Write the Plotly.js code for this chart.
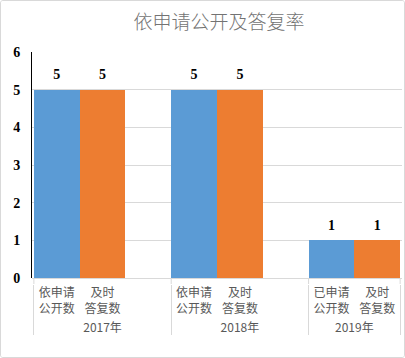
<!DOCTYPE html>
<html>
<head>
<meta charset="utf-8">
<script src="https://cdn.plot.ly/plotly-3.0.1.min.js"></script>
<style>
html,body{margin:0;padding:0;background:#fff;}
#wrap{width:405px;height:358px;box-sizing:border-box;border:1px solid #d9d9d9;border-radius:3px;overflow:hidden;}
#chart{width:403px;height:356px;}
</style>
</head>
<body>
<div id="wrap"><div id="chart"></div></div>
<script>
const years = ['2017年', '2018年', '2019年'];
const appliedLabels = ['依申请<br>公开数', '依申请<br>公开数', '已申请<br>公开数'];
const repliedLabel = '及时<br>答复数';
const applied = [5, 5, 1];
const replied = [5, 5, 1];
const hasSpacer = [true, true, false];

const blue = '#5B9BD5', orange = '#ED7D31';
const xParent = [], xChild = [], yVals = [], colors = [], texts = [];
function pushItem(p, c, v, col, t) { xParent.push(p); xChild.push(c); yVals.push(v); colors.push(col); texts.push(t); }
years.forEach((yr, i) => pushItem(yr, appliedLabels[i], applied[i], blue, String(applied[i])));
years.forEach((yr, i) => pushItem(yr, repliedLabel, replied[i], orange, String(replied[i])));
years.forEach((yr, i) => { if (hasSpacer[i]) pushItem(yr, ' ', null, '#fff', ''); });

const bars = {
  type: 'bar',
  x: [xParent, xChild],
  y: yVals,
  marker: {color: colors, line: {width: 0}},
  hoverinfo: 'none'
};

const labels = {
  type: 'scatter',
  mode: 'markers+text',
  x: [xParent, xChild],
  y: yVals,
  text: texts,
  textposition: 'top center',
  marker: {size: 10, opacity: 0},
  cliponaxis: false,
  textfont: {family: 'Liberation Serif', size: 14, color: '#000', weight: 'bold'},
  hoverinfo: 'none'
};

// short divider segments bridging the zero line and the (offset) category axis
const plotH = 356 - 51 - 73;
const gapFrac = 6 / plotH;
const shapes = [];
let edge = -0.5;
shapes.push({type: 'line', xref: 'x', yref: 'paper', x0: edge, x1: edge, y0: 0, y1: gapFrac, line: {color: '#d9d9d9', width: 1}});
years.forEach((yr, i) => {
  edge += 2 + (hasSpacer[i] ? 1 : 0);
  shapes.push({type: 'line', xref: 'x', yref: 'paper', x0: edge, x1: edge, y0: 0, y1: gapFrac, line: {color: '#d9d9d9', width: 1}});
});

const layout = {
  width: 403, height: 356,
  margin: {l: 31, r: 2, t: 51, b: 73},
  paper_bgcolor: '#fff', plot_bgcolor: '#fff',
  showlegend: false,
  bargap: 0,
  shapes: shapes,
  title: {
    text: '依申请公开及答复率',
    font: {family: 'Noto Sans CJK SC', size: 19, color: '#737373', weight: 300},
    x: 0.541, xref: 'container', xanchor: 'center',
    y: 0.94, yref: 'container', yanchor: 'middle'
  },
  xaxis: {
    type: 'multicategory',
    anchor: 'free', position: 0,
    showline: false,
    showdividers: true, dividercolor: '#d9d9d9', dividerwidth: 1,
    tickfont: {family: 'Noto Sans CJK SC', size: 12, color: '#595959'},
    showgrid: false, zeroline: false
  },
  yaxis: {
    domain: [gapFrac, 1],
    range: [0, 6], dtick: 1,
    showline: true, linecolor: '#000', linewidth: 1,
    showgrid: true, gridcolor: '#d9d9d9', gridwidth: 1,
    zeroline: true, zerolinecolor: '#d9d9d9', zerolinewidth: 1,
    ticklabelstandoff: 8,
    tickfont: {family: 'Liberation Serif', size: 14, color: '#000', weight: 'bold'}
  }
};

Plotly.newPlot('chart', [bars, labels], layout, {displayModeBar: false, staticPlot: true});
</script>
</body>
</html>
